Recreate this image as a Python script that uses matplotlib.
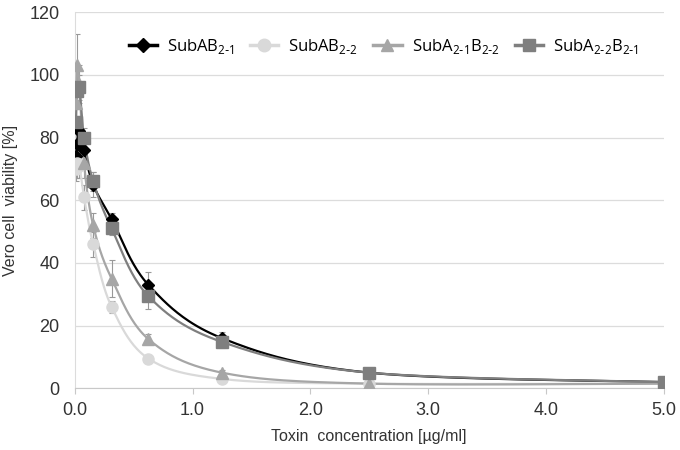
import numpy as np
import matplotlib
matplotlib.use('Agg')
from matplotlib import pyplot as plt

# toxin concentration [ug/ml]
conc = [0.0098, 0.0195, 0.039, 0.078, 0.156, 0.3125, 0.625, 1.25, 2.5, 5.0]

labels = ['SubAB$_\\mathregular{2\\text{-}1}$', 'SubAB$_\\mathregular{2\\text{-}2}$',
          'SubA$_\\mathregular{2\\text{-}1}$B$_\\mathregular{2\\text{-}2}$',
          'SubA$_\\mathregular{2\\text{-}2}$B$_\\mathregular{2\\text{-}1}$']

ab21 = [74, 78, 82, 76, 65, 54, 33, 16, 5, 2]
ab22 = [70, 72, 71, 61, 46, 26, 9.5, 3, 1.5, 1.5]
a21b22 = [91, 103, 97, 72, 52, 35, 15.7, 5, 1.5, 1.5]
a22b21 = [85, 95, 96, 80, 66, 51, 29.4, 14.8, 5, 2]

err_ab21 = [7, 6, 5, 4, 4, 2, 4, 2, 0.5, 0.3]
err_ab22 = [4, 5, 4, 4, 4, 2, 1, 0.5, 0.3, 0.3]
err_a21b22 = [5, 10, 6, 5, 4, 6, 1.5, 0.8, 0.3, 0.3]
err_a22b21 = [4, 5, 4, 3, 3, 2, 4, 2, 0.5, 0.3]

series = [ab21, ab22, a21b22, a22b21]
errs = [err_ab21, err_ab22, err_a21b22, err_a22b21]
colors = ['#000000', '#d9d9d9', '#a6a6a6', '#7f7f7f']
markers = ['D', 'o', '^', 's']
msizes = [6, 8, 8, 8]


def smooth(x, y, n=40):
    # catmull-rom through the points, in axis-normalised space (like excel smoothing)
    sx, sy = 5.0, 120.0
    px = np.array(x) / sx
    py = np.array(y) / sy
    P = np.column_stack([px, py])
    P = np.vstack([P[0], P, P[-1]])
    out = []
    t = np.linspace(0, 1, n)[:, None]
    for i in range(1, len(P) - 2):
        p0, p1, p2, p3 = P[i - 1], P[i], P[i + 1], P[i + 2]
        c = 0.5 * ((2 * p1) + (-p0 + p2) * t + (2 * p0 - 5 * p1 + 4 * p2 - p3) * t ** 2
                   + (-p0 + 3 * p1 - 3 * p2 + p3) * t ** 3)
        out.append(c)
    out = np.vstack(out)
    return out[:, 0] * sx, out[:, 1] * sy


plt.rcParams['font.family'] = ['Liberation Sans', 'DejaVu Sans']
fig = plt.figure(figsize=(6.8, 4.5), dpi=100)
ax = fig.add_axes([0.11, 0.137, 0.866, 0.836])

for y, e, c, m, ms, lab in zip(series, errs, colors, markers, msizes, labels):
    ax.errorbar(conc, y, yerr=e, fmt='none', ecolor='#999999', elinewidth=0.8,
                capsize=2.5, capthick=0.8, zorder=2)
    xs, ys = smooth(conc, y)
    ax.plot(xs, ys, color=c, lw=1.6, zorder=3)
    ax.plot(conc, y, linestyle='none', marker=m, color=c, markersize=ms, zorder=4)
    ax.plot([], [], color=c, lw=2.5, marker=m, markersize=ms + 1, label=lab)

ax.set_xlim(0, 5.0)
ax.set_ylim(0, 120)
ax.set_xticks(np.arange(0, 5.01, 1.0))
ax.set_xticklabels(['%.1f' % v for v in np.arange(0, 5.01, 1.0)])
ax.set_yticks(range(0, 121, 20))
ax.grid(axis='y', color='#dcdcdc', lw=0.9)
ax.set_axisbelow(True)
for s in ['top', 'right']:
    ax.spines[s].set_visible(False)
ax.spines['left'].set_color('#dcdcdc')
ax.spines['bottom'].set_color('#c8c8c8')
ax.tick_params(axis='y', length=0, labelsize=13, labelcolor='#333333', pad=11)
ax.tick_params(axis='x', length=4, color='#c8c8c8', labelsize=13, labelcolor='#333333', pad=6)

ax.set_xlabel('Toxin  concentration [µg/ml]', fontsize=11.5, color='#333333', labelpad=7)
ax.set_ylabel('Vero cell  viability [%]', fontsize=11.5, color='#333333', labelpad=8)

ax.legend(loc='upper center', bbox_to_anchor=(0.525, 0.975), ncol=4, frameon=False,
          prop={'family': 'Open Sans', 'size': 12}, handlelength=1.7,
          columnspacing=0.9, handletextpad=0.6)

fig.savefig('out.png', dpi=100)
